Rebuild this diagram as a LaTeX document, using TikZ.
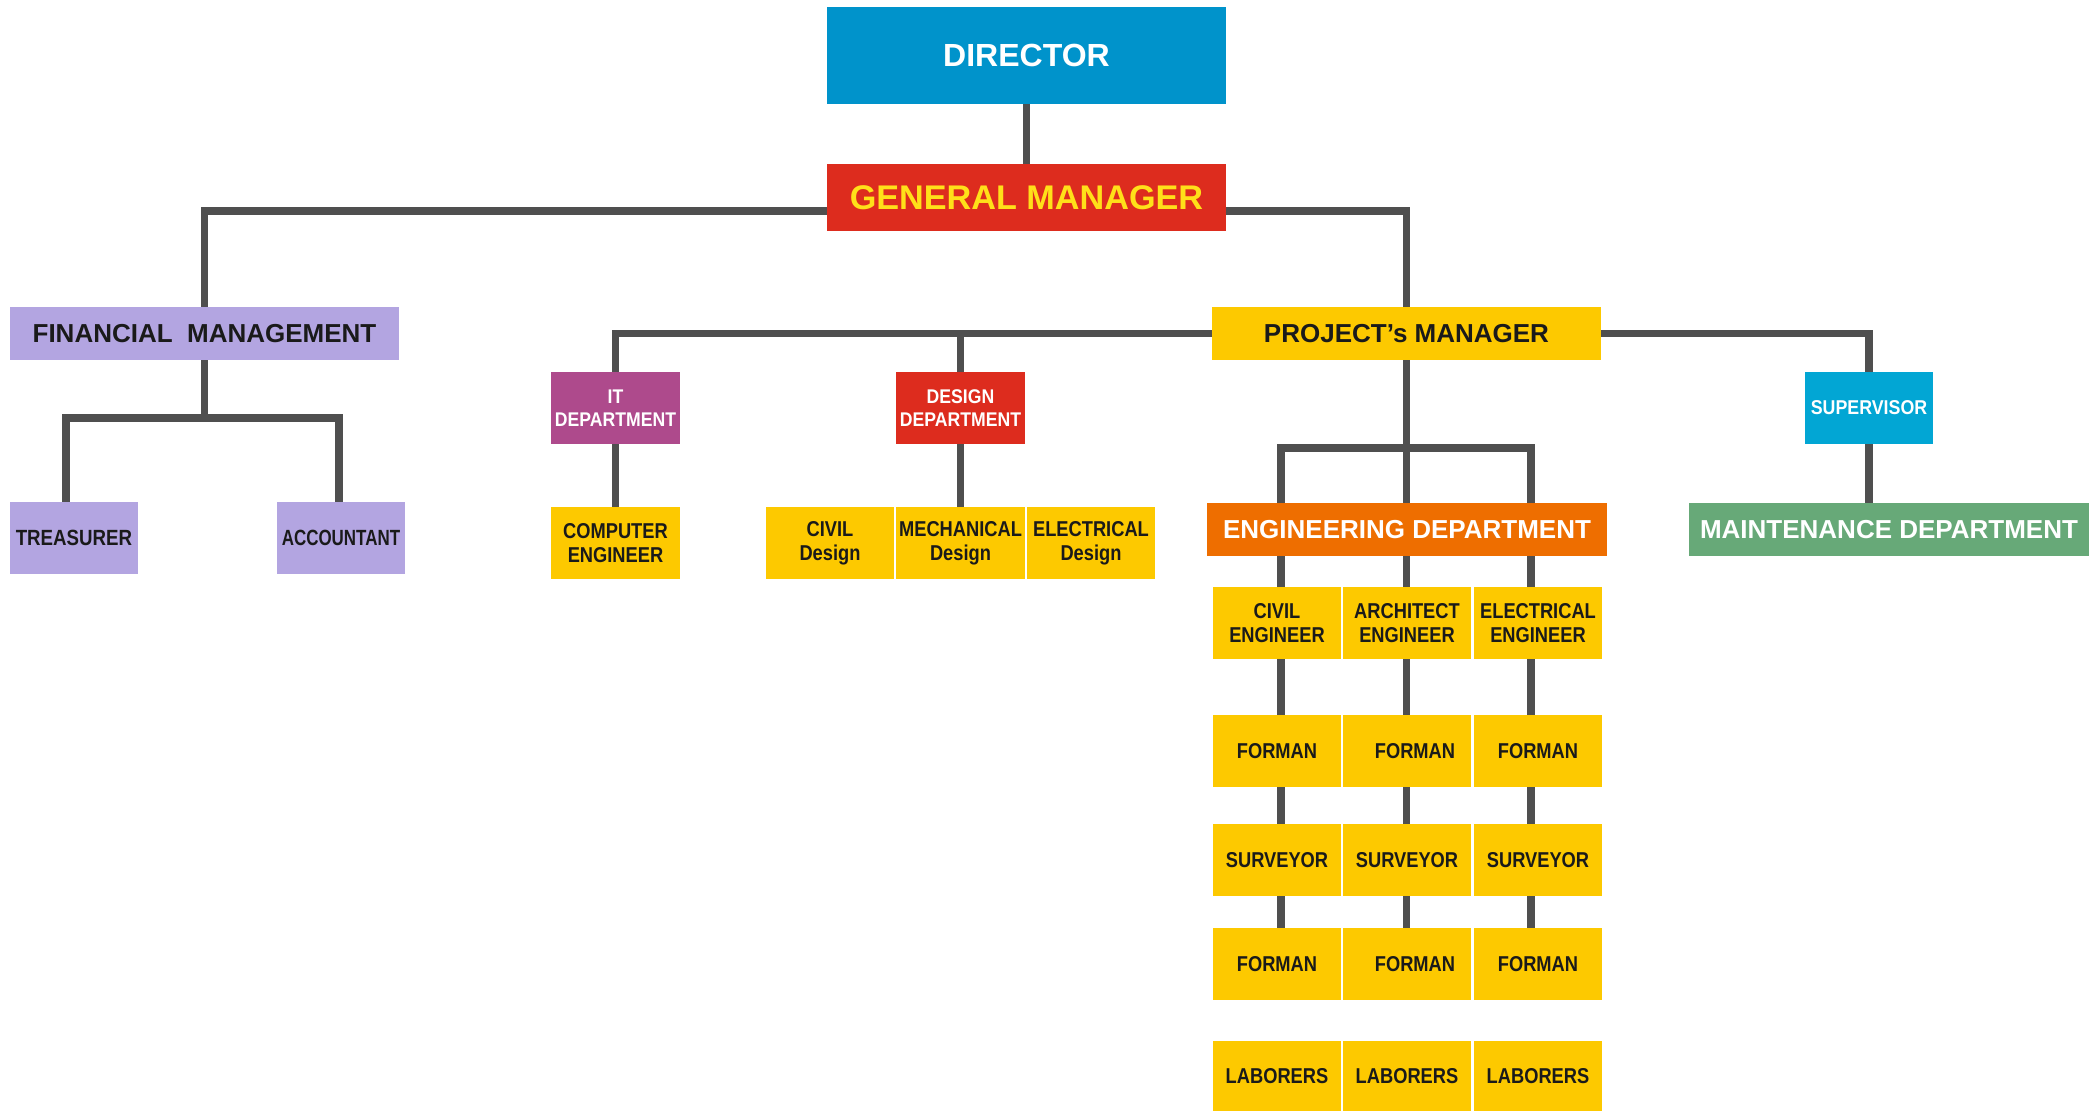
\documentclass[tikz,border=0pt]{standalone}
\usepackage{fontspec}
\setmainfont{Liberation Sans}
\newfontfamily\nA[FakeStretch=0.85]{Liberation Sans}
\newfontfamily\nB[FakeStretch=0.89]{Liberation Sans}
\newfontfamily\nC[FakeStretch=0.77]{Liberation Sans}
\usetikzlibrary{backgrounds}
\definecolor{dirblue}{HTML}{0093CB}
\definecolor{gmred}{HTML}{DD2C1E}
\definecolor{gmyel}{HTML}{FFE019}
\definecolor{fmpur}{HTML}{B3A5E1}
\definecolor{itpur}{HTML}{AE4A8C}
\definecolor{ylw}{HTML}{FDC900}
\definecolor{orng}{HTML}{EE6E00}
\definecolor{supblue}{HTML}{02A6D4}
\definecolor{grn}{HTML}{67A978}
\definecolor{linec}{HTML}{4F4F4F}
\definecolor{dark}{HTML}{1A1A1A}
\begin{document}
\begin{tikzpicture}[x=0.5pt,y=-0.5pt,
  box/.style={rectangle,inner sep=0pt,outer sep=0pt,align=center},
  sz/.style 2 args={minimum width=#1*0.5pt,minimum height=#2*0.5pt},
  big/.style={font=\bfseries\fontsize{13}{15}\selectfont},
  conn/.style={draw=linec,line width=3.75pt,line join=miter},
  small/.style={box,fill=ylw,text=dark,sz={128}{72},font=\nA\bfseries\fontsize{10.75}{11.9}\selectfont},
  dept/.style={box,text=white,sz={129}{72},font=\nB\bfseries\fontsize{9.9}{11.4}\selectfont}]
\useasboundingbox (0,0) rectangle (2100,1111);
% top
\node[box,fill=dirblue,text=white,sz={399}{97},font=\bfseries\fontsize{16}{19}\selectfont] (dir) at (1026.5,55.5) {DIRECTOR};
\node[box,fill=gmred,text=gmyel,sz={399}{67},font=\bfseries\fontsize{17.1}{20}\selectfont] (gm) at (1026.5,197.5) {GENERAL MANAGER};
% financial
\node[box,fill=fmpur,text=dark,sz={389}{53},big] (fm) at (204.5,333.5) {FINANCIAL\ \ MANAGEMENT};
\node[small,fill=fmpur,font=\nA\bfseries\fontsize{11}{13}\selectfont] (treas) at (74,538) {TREASURER};
\node[small,fill=fmpur,font=\nC\bfseries\fontsize{11}{13}\selectfont] (acct) at (341,538) {ACCOUNTANT};
% project manager
\node[box,fill=ylw,text=dark,sz={389}{53},big] (pm) at (1406.5,333.5) {PROJECT’s MANAGER};
\node[dept,fill=itpur] (it) at (615.5,408) {IT\\DEPARTMENT};
\node[dept,fill=gmred] (dsg) at (960.5,408) {DESIGN\\DEPARTMENT};
\node[small,sz={129}{72}] (comp) at (615.5,543) {COMPUTER\\ENGINEER};
\node[small] (civd) at (830,543) {CIVIL\\Design};
\node[small,sz={129}{72}] (mechd) at (960.5,543) {MECHANICAL\\Design};
\node[small] (elecd) at (1091,543) {ELECTRICAL\\Design};
\node[box,fill=orng,text=white,sz={400}{53},big] (eng) at (1407,529.5) {ENGINEERING DEPARTMENT};
\node[dept,fill=supblue,sz={128}{72},font=\nB\bfseries\fontsize{10}{12}\selectfont] (sup) at (1869,408) {SUPERVISOR};
\node[box,fill=grn,text=white,sz={400}{53},big] (mnt) at (1889,529.5) {MAINTENANCE DEPARTMENT};
% engineering columns
\node[small] (ea) at (1277,623) {CIVIL\\ENGINEER};
\node[small] (eb) at (1407,623) {ARCHITECT\\ENGINEER};
\node[small] (ec) at (1538,623) {ELECTRICAL\\ENGINEER};
\node[small] (f1a) at (1277,751) {FORMAN};
\node[small] (f1b) at (1407,751) {\hspace*{8pt}FORMAN};
\node[small] (f1c) at (1538,751) {FORMAN};
\node[small] (sa) at (1277,860) {SURVEYOR};
\node[small] (sb) at (1407,860) {SURVEYOR};
\node[small] (sc) at (1538,860) {SURVEYOR};
\node[small] (f2a) at (1277,964) {FORMAN};
\node[small] (f2b) at (1407,964) {\hspace*{8pt}FORMAN};
\node[small] (f2c) at (1538,964) {FORMAN};
\node[small,sz={128}{70}] (la) at (1277,1076) {LABORERS};
\node[small,sz={128}{70}] (lb) at (1407,1076) {LABORERS};
\node[small,sz={128}{70}] (lc) at (1538,1076) {LABORERS};
% connectors
\begin{scope}[on background layer]
\draw[conn] (dir.south) -- (gm.north);
\draw[conn] (gm.west |- 0,211) -| (fm.north);
\draw[conn] (gm.east |- 0,211) -| (pm.north);
\draw[conn] (fm.south) -- (fm.south |- 0,418);
\draw[conn] (treas.north -| 66,0) |- (339,418) -- (acct.north -| 339,0);
\draw[conn] (it.north) |- (pm.west);
\draw[conn] (pm.east) -| (sup.north);
\draw[conn] (dsg.north) -- (dsg.north |- pm.west);
\draw[conn] (it.south) -- (comp.north);
\draw[conn] (dsg.south) -- (mechd.north);
\draw[conn] (pm.south) -- (pm.south |- f2b.north);
\draw[conn] (f2a.north -| 1281,0) |- (1531,448) -- (f2c.north -| 1531,0);
\draw[conn] (sup.south) -- (sup.south |- mnt.north);
\end{scope}
\end{tikzpicture}
\end{document}
